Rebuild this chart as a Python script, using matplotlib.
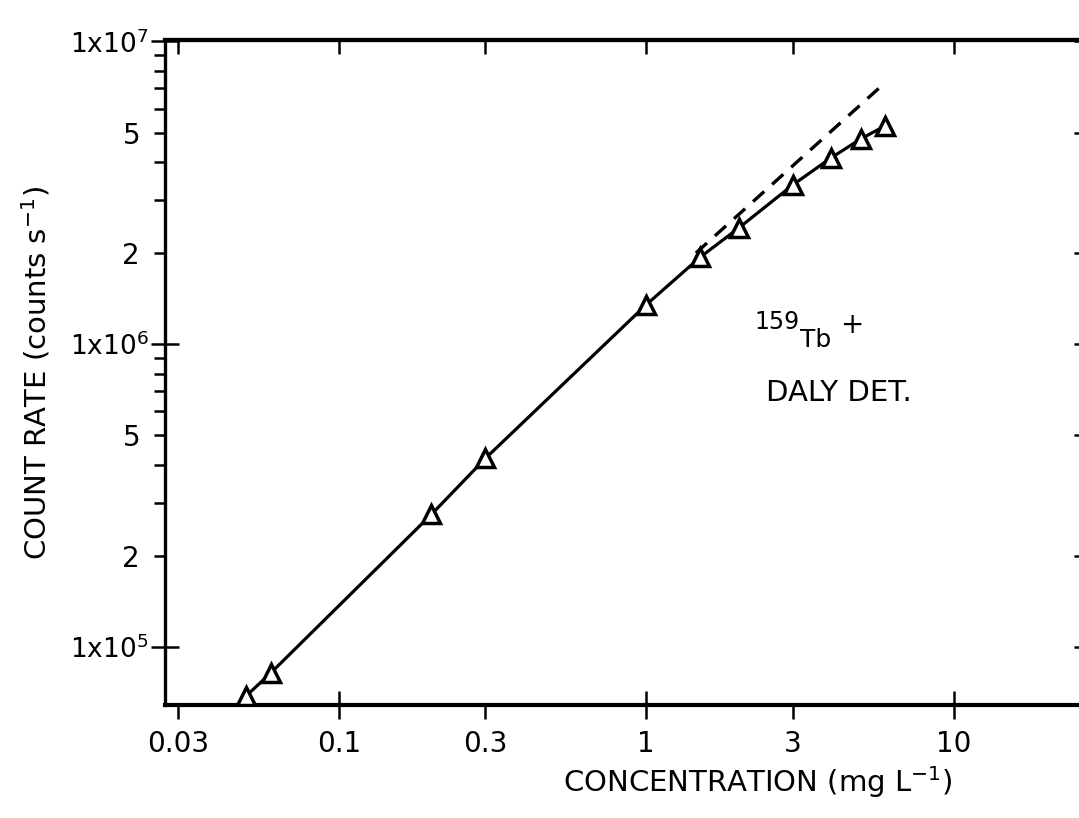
import matplotlib
matplotlib.use("Agg")
import matplotlib.pyplot as plt
from matplotlib.ticker import FixedLocator, NullFormatter, FixedFormatter

# ---- data ----
conc = [0.05, 0.06, 0.2, 0.3, 1.0, 1.5, 2.0, 3.0, 4.0, 5.0, 6.0]
counts = [6.9e4, 8.2e4, 2.74e5, 4.2e5, 1.35e6, 1.94e6, 2.42e6, 3.36e6, 4.13e6, 4.77e6, 5.27e6]
dash_x = [1.45, 5.8]
dash_y = [2.0e6, 7.1e6]

x_major = [0.1, 1, 10]
x_minor = [0.03, 0.3, 3]
x_major_labels = ["0.1", "1", "10"]
x_minor_labels = ["0.03", "0.3", "3"]
y_major = [1e5, 1e6, 1e7]
y_major_labels = [r"1x10$^{5}$", r"1x10$^{6}$", r"1x10$^{7}$"]
y_minor = [2e5, 3e5, 4e5, 5e5, 6e5, 7e5, 8e5, 9e5,
           2e6, 3e6, 4e6, 5e6, 6e6, 7e6, 8e6, 9e6]
y_minor_labels = ["2", "", "", "5", "", "", "", "",
                  "2", "", "", "5", "", "", "", ""]

plt.rcParams['font.family'] = ['DejaVu Sans']
fig = plt.figure(figsize=(10.79, 8.18), dpi=100)
ax = fig.add_axes([0.153, 0.138, 0.850, 0.813])
ax.set_xscale('log')
ax.set_yscale('log')
ax.set_xlim(0.02722, 26.2)
ax.set_ylim(6.43e4, 1.01e7)

ax.plot(conc, counts, color='black', lw=2.3, marker='^', ms=13,
        mfc='white', mec='black', mew=2.5, zorder=3)
ax.plot(dash_x, dash_y, color='black', lw=2.4, ls=(0, (4.5, 3.2)), zorder=2)

for s in ['top', 'bottom']:
    ax.spines[s].set_linewidth(3.0)
ax.spines['left'].set_linewidth(2.4)
ax.spines['right'].set_linewidth(2.4)

# x ticks
ax.xaxis.set_major_locator(FixedLocator(x_major))
ax.xaxis.set_major_formatter(FixedFormatter(x_major_labels))
ax.xaxis.set_minor_locator(FixedLocator(x_minor))
ax.xaxis.set_minor_formatter(FixedFormatter(x_minor_labels))
ax.tick_params(axis='x', which='major', direction='inout', length=20, width=1.8,
               labelsize=20, pad=8, top=False)
ax.tick_params(axis='x', which='minor', direction='out', length=10, width=1.8,
               labelsize=20, pad=8, top=False)

# y ticks
ax.yaxis.set_major_locator(FixedLocator(y_major))
ax.yaxis.set_major_formatter(FixedFormatter(y_major_labels))
ax.yaxis.set_minor_locator(FixedLocator(y_minor))
ax.yaxis.set_minor_formatter(FixedFormatter(y_minor_labels))
ax.tick_params(axis='y', which='major', direction='inout', length=20, width=1.8,
               labelsize=19, pad=2, right=False)
ax.tick_params(axis='y', which='minor', direction='out', length=8, width=1.8,
               labelsize=20, pad=10, right=False)

# top ticks (inward)
top = ax.secondary_xaxis('top')
top.xaxis.set_major_locator(FixedLocator(x_major + x_minor))
top.xaxis.set_major_formatter(NullFormatter())
top.xaxis.set_minor_locator(FixedLocator([]))
top.tick_params(which='both', direction='in', length=10, width=1.8)
top.spines['top'].set_linewidth(3.0)

right = ax.secondary_yaxis('right')
right.yaxis.set_major_locator(FixedLocator(y_major + [2e5, 5e5, 2e6, 5e6]))
right.yaxis.set_major_formatter(NullFormatter())
right.yaxis.set_minor_locator(FixedLocator([]))
right.tick_params(which='both', direction='in', length=6, width=1.8)

ax.set_xlabel(r"CONCENTRATION (mg L$^{-1}$)", fontsize=21)
ax.xaxis.set_label_coords(0.646, -0.088)
ax.set_ylabel(r"COUNT RATE (counts s$^{-1}$)", fontsize=21, labelpad=12)

ax.text(0.643, 0.565, "159", transform=ax.transAxes,
        fontsize=17, ha='left', va='baseline')
ax.text(0.692, 0.538, "Tb", transform=ax.transAxes,
        fontsize=18, ha='left', va='baseline')
ax.text(0.737, 0.56, "+", transform=ax.transAxes,
        fontsize=20, ha='left', va='baseline')
ax.text(0.655, 0.458, "DALY DET.", transform=ax.transAxes,
        fontsize=21, ha='left', va='baseline')

fig.savefig("out.png", dpi=100)
